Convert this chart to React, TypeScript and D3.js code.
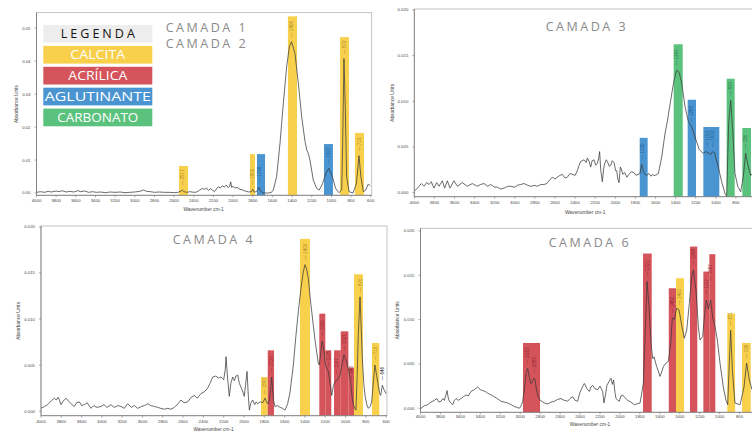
import React from 'react';
import * as d3 from 'd3';

type Pt = [number, number];
type Band = { from: number; to: number; top: number; kind: string };
type Peak = { text: string; wn: number; at: number };

// ---------- DATA ----------
const spectrumCamada1: Pt[] = [
  [4000,0.0002],[3960,0.0004],[3920,0.0002],[3880,0.0005],[3850,0.0003],[3800,0.0006],[3770,0.0004],[3740,0.0007],
  [3700,0.0003],[3660,0.0005],[3620,0.0003],[3580,0.0007],[3550,0.0004],[3510,0.0006],[3470,0.0002],[3430,0.0004],
  [3390,0.0002],[3350,0.0003],[3300,0.0001],[3250,0.0003],[3200,0.0002],[3150,0.0003],[3100,0.0001],[3050,0.0002],
  [3000,0.0003],[2950,0.0005],[2910,0.0009],[2880,0.0005],[2840,0.0004],[2800,0.0002],[2750,0.0003],[2700,0.0002],
  [2650,0.0002],[2600,0.0001],[2560,0.0002],[2530,0.0006],[2517,0.0009],[2500,0.0004],[2470,0.0002],[2440,0.0004],
  [2400,0.0002],[2370,0.0003],[2340,0.0009],[2310,0.0014],[2290,0.0011],[2270,0.0015],[2250,0.0008],[2230,0.0013],
  [2210,0.0009],[2190,0.0004],[2170,0.0012],[2150,0.0019],[2130,0.0015],[2110,0.0022],[2090,0.0018],[2070,0.0024],
  [2050,0.0016],[2035,0.0021],[2024,0.0034],[2015,0.0017],[2000,0.002],[1980,0.0015],[1960,0.0017],[1930,0.0011],
  [1900,0.0009],[1870,0.0005],[1840,0.0003],[1815,0.0004],[1800,0.0011],[1785,0.0003],[1760,0.0004],[1736,0.0017],
  [1720,0.0006],[1700,0.0001],[1670,0.0],[1640,0.0],[1610,0.0002],[1591,0.0009],[1557,0.005],[1523,0.015],
  [1489,0.0272],[1455,0.0383],[1428,0.0443],[1406,0.0459],[1370,0.0423],[1336,0.0332],[1302,0.0231],[1268,0.0156],
  [1250,0.013],[1235,0.012],[1218,0.01],[1184,0.0039],[1150,0.0014],[1123,0.0009],[1089,0.0029],[1055,0.006],
  [1027,0.0075],[990,0.005],[957,0.0014],[923,0.0001],[895,0.0009],[885,0.015],[872,0.0408],[858,0.0252],
  [845,0.005],[820,0.0004],[780,0.0],[745,0.0029],[719,0.0113],[700,0.005],[675,0.0004],[650,0.0009],
  [625,0.0027],[605,0.0022],
];

const spectrumCamada3: Pt[] = [
  [4000,0.0002],[3986,0.0003],[3953,0.0007],[3930,0.001],[3903,0.0007],[3877,0.0011],[3854,0.0009],[3831,0.0012],
  [3804,0.0005],[3777,0.0011],[3754,0.0007],[3721,0.0013],[3698,0.0005],[3671,0.0013],[3645,0.0005],[3605,0.0013],
  [3572,0.0007],[3522,0.0011],[3472,0.0007],[3423,0.001],[3373,0.0007],[3340,0.0009],[3306,0.001],[3270,0.0007],
  [3240,0.0009],[3200,0.0006],[3174,0.0006],[3140,0.0004],[3107,0.0005],[3070,0.0007],[3041,0.0007],[3000,0.0006],
  [2975,0.0008],[2940,0.0009],[2908,0.001],[2870,0.0008],[2842,0.0007],[2800,0.0008],[2776,0.0007],[2740,0.0009],
  [2709,0.0009],[2680,0.001],[2660,0.0013],[2626,0.0017],[2600,0.0015],[2577,0.0017],[2550,0.0019],[2527,0.002],
  [2500,0.0016],[2477,0.0017],[2450,0.0021],[2427,0.002],[2400,0.0019],[2378,0.0024],[2360,0.003],[2345,0.0034],
  [2311,0.0036],[2290,0.0033],[2278,0.0038],[2260,0.0034],[2245,0.0028],[2230,0.0035],[2212,0.0036],[2195,0.003],
  [2179,0.0032],[2165,0.0038],[2156,0.0045],[2145,0.0025],[2129,0.0012],[2115,0.0027],[2106,0.0032],[2090,0.0036],
  [2079,0.0034],[2060,0.0029],[2046,0.003],[2030,0.0035],[2013,0.0033],[1996,0.0024],[1986,0.0024],[1975,0.0015],
  [1963,0.0011],[1950,0.0028],[1940,0.0026],[1925,0.002],[1907,0.0022],[1885,0.0017],[1864,0.002],[1840,0.0023],
  [1814,0.0022],[1795,0.0019],[1774,0.002],[1755,0.0021],[1738,0.0031],[1720,0.0023],[1704,0.002],[1685,0.0019],
  [1665,0.0021],[1645,0.0018],[1631,0.002],[1621,0.0019],[1600,0.0019],[1572,0.0021],[1538,0.0039],[1505,0.0065],
  [1482,0.0078],[1449,0.0101],[1416,0.0123],[1389,0.0134],[1366,0.0132],[1339,0.012],[1306,0.0094],[1273,0.0078],
  [1240,0.0072],[1207,0.0061],[1164,0.0047],[1124,0.0043],[1100,0.0045],[1084,0.0044],[1065,0.0043],[1048,0.0042],
  [1030,0.0045],[1014,0.0044],[975,0.0028],[942,0.0012],[908,-0.0001],[892,-0.0004],[872,0.0076],[852,0.0101],
  [832,0.0069],[809,0.0021],[782,0.0007],[752,0.0001],[726,0.0018],[703,0.0043],[676,0.0028],[653,0.0019],
  [620,0.0022],
];

const spectrumCamada4: Pt[] = [
  [4000,0.0003],[3967,0.0005],[3934,0.0007],[3900,0.0011],[3869,0.0014],[3850,0.0012],[3830,0.0015],[3819,0.0012],
  [3803,0.0007],[3780,0.0011],[3754,0.0014],[3730,0.0011],[3704,0.0008],[3672,0.0005],[3650,0.0009],[3622,0.001],
  [3600,0.0006],[3573,0.0007],[3545,0.0009],[3507,0.0003],[3480,0.0006],[3450,0.0004],[3409,0.0005],[3380,0.0007],
  [3350,0.0004],[3310,0.0007],[3280,0.0004],[3240,0.0006],[3212,0.0005],[3180,0.0003],[3146,0.0008],[3110,0.0004],
  [3080,0.0006],[3048,0.0003],[3010,0.0005],[2980,0.0006],[2949,0.0008],[2920,0.0006],[2883,0.0005],[2850,0.0004],
  [2820,0.0003],[2785,0.0002],[2750,0.0003],[2720,0.0002],[2686,0.0004],[2650,0.0008],[2621,0.0012],[2590,0.0009],
  [2555,0.001],[2520,0.0015],[2489,0.0017],[2460,0.0014],[2424,0.0019],[2390,0.0021],[2358,0.0025],[2335,0.003],
  [2309,0.0037],[2280,0.0038],[2250,0.0036],[2227,0.0037],[2200,0.0034],[2185,0.0045],[2177,0.0059],[2165,0.004],
  [2145,0.0016],[2130,0.003],[2112,0.0037],[2095,0.0033],[2080,0.0038],[2062,0.0039],[2045,0.003],[2030,0.0026],
  [2015,0.0022],[1997,0.0016],[1985,0.0028],[1970,0.0043],[1958,0.0018],[1947,0.0001],[1935,0.0008],[1915,0.0012],
  [1895,0.0007],[1880,0.001],[1865,0.0008],[1840,0.001],[1816,0.0009],[1793,0.0014],[1775,0.0009],[1760,0.0008],
  [1745,0.0015],[1727,0.0037],[1710,0.0012],[1695,0.0005],[1670,0.0006],[1645,0.0004],[1620,0.0003],[1596,0.0001],
  [1570,0.0008],[1547,0.002],[1514,0.005],[1490,0.008],[1465,0.0108],[1440,0.0132],[1416,0.0151],[1399,0.0159],
  [1385,0.0155],[1366,0.0144],[1345,0.012],[1317,0.0093],[1300,0.0077],[1284,0.0064],[1268,0.0052],[1258,0.005],
  [1245,0.0062],[1230,0.0076],[1215,0.0068],[1200,0.0052],[1185,0.0046],[1169,0.0043],[1155,0.0032],[1136,0.0017],
  [1120,0.0027],[1103,0.0032],[1080,0.0034],[1054,0.0039],[1035,0.005],[1015,0.0061],[1000,0.0057],[982,0.005],
  [965,0.0042],[949,0.0032],[935,0.0015],[923,0.0007],[905,0.0002],[897,0.0001],[885,0.004],[874,0.0083],
  [857,0.0124],[845,0.009],[834,0.0057],[820,0.003],[808,0.0017],[790,0.0007],[775,0.0003],[758,0.0005],
  [742,0.001],[725,0.0032],[710,0.005],[695,0.004],[677,0.0028],[665,0.002],[654,0.0017],[637,0.0028],
  [620,0.0023],[600,0.0019],
];

const spectrumCamada6: Pt[] = [
  [4000,0.0001],[3995,0.0],[3960,0.0003],[3928,0.0004],[3895,0.0007],[3861,0.0009],[3835,0.0011],[3815,0.0007],
  [3794,0.0008],[3775,0.0011],[3761,0.0009],[3745,0.0015],[3734,0.002],[3722,0.0012],[3711,0.0008],[3695,0.0006],
  [3677,0.0004],[3660,0.0009],[3644,0.0011],[3620,0.0009],[3594,0.0011],[3570,0.0013],[3544,0.0015],[3520,0.0014],
  [3494,0.0019],[3460,0.0021],[3427,0.0024],[3400,0.0021],[3377,0.002],[3350,0.0019],[3326,0.0017],[3290,0.0015],
  [3260,0.0013],[3230,0.0011],[3193,0.0008],[3160,0.0007],[3126,0.0006],[3090,0.0004],[3059,0.0002],[3030,0.0001],
  [3009,0.0],[2990,0.0003],[2975,0.0008],[2955,0.0025],[2940,0.004],[2925,0.0045],[2910,0.0036],[2895,0.0028],
  [2880,0.0029],[2865,0.0034],[2853,0.0033],[2835,0.002],[2818,0.0013],[2800,0.0009],[2785,0.0008],[2760,0.0006],
  [2725,0.0005],[2690,0.0007],[2658,0.0008],[2625,0.001],[2591,0.0011],[2560,0.0009],[2524,0.0008],[2500,0.0011],
  [2474,0.0013],[2450,0.0009],[2424,0.0008],[2400,0.0018],[2380,0.0023],[2357,0.0028],[2330,0.0022],[2307,0.0019],
  [2290,0.0024],[2273,0.0026],[2250,0.0022],[2223,0.0021],[2200,0.0025],[2173,0.0019],[2160,0.0006],[2145,0.0015],
  [2130,0.0026],[2110,0.003],[2090,0.0034],[2075,0.0027],[2063,0.0032],[2050,0.0018],[2039,0.0011],[2020,0.0009],
  [2006,0.0008],[1990,0.0014],[1972,0.0015],[1950,0.0012],[1922,0.0009],[1890,0.0007],[1855,0.0004],[1830,0.0005],
  [1798,0.0006],[1765,0.0028],[1745,0.0088],[1728,0.0143],[1708,0.0115],[1688,0.0073],[1671,0.0056],[1658,0.0058],
  [1631,0.0047],[1615,0.0042],[1598,0.0036],[1581,0.0041],[1564,0.0047],[1538,0.0051],[1514,0.0053],[1491,0.0073],
  [1474,0.0102],[1454,0.01],[1431,0.0113],[1407,0.0111],[1381,0.0094],[1354,0.0079],[1330,0.0088],[1304,0.0118],
  [1280,0.0148],[1263,0.0156],[1237,0.0133],[1213,0.0092],[1197,0.0077],[1170,0.0081],[1153,0.0103],[1133,0.0122],
  [1113,0.0112],[1090,0.0122],[1070,0.0103],[1046,0.0092],[1023,0.0077],[996,0.0051],[963,0.0024],[936,0.0009],
  [919,0.0004],[903,0.0051],[889,0.0088],[872,0.0043],[846,0.0006],[795,0.0004],[755,0.0024],[729,0.0051],
  [702,0.0032],[675,0.0021],[640,0.0022],
];

const bandsCamada1: Band[] = [
  { from: 2550, to: 2459, top: 0.0082, kind: 'calcita' },
  { from: 1828, to: 1777, top: 0.0118, kind: 'calcita' },
  { from: 1757, to: 1675, top: 0.0118, kind: 'aglutinante' },
  { from: 1442, to: 1350, top: 0.0536, kind: 'calcita' },
  { from: 1075, to: 984, top: 0.01485, kind: 'aglutinante' },
  { from: 912, to: 821, top: 0.0473, kind: 'calcita' },
  { from: 760, to: 668, top: 0.0182, kind: 'calcita' },
];
const bandsCamada3: Band[] = [
  { from: 1757, to: 1678, top: 0.006, kind: 'aglutinante' },
  { from: 1419, to: 1329, top: 0.01624, kind: 'carbonato' },
  { from: 1280, to: 1197, top: 0.01017, kind: 'aglutinante' },
  { from: 1124, to: 1048, top: 0.00719, kind: 'aglutinante' },
  { from: 1048, to: 965, top: 0.00719, kind: 'aglutinante' },
  { from: 892, to: 812, top: 0.01247, kind: 'carbonato' },
  { from: 736, to: 650, top: 0.00708, kind: 'carbonato' },
];
const bandsCamada4: Band[] = [
  { from: 1832, to: 1766, top: 0.0037, kind: 'calcita' },
  { from: 1766, to: 1704, top: 0.0066, kind: 'acrilica' },
  { from: 1448, to: 1350, top: 0.0187, kind: 'calcita' },
  { from: 1258, to: 1199, top: 0.01058, kind: 'acrilica' },
  { from: 1199, to: 1140, top: 0.0066, kind: 'acrilica' },
  { from: 1113, to: 1047, top: 0.0066, kind: 'acrilica' },
  { from: 1047, to: 972, top: 0.00866, kind: 'acrilica' },
  { from: 972, to: 916, top: 0.0047, kind: 'acrilica' },
  { from: 916, to: 828, top: 0.01486, kind: 'calcita' },
  { from: 739, to: 667, top: 0.0074, kind: 'calcita' },
];
const bandsCamada6: Band[] = [
  { from: 2972, to: 2801, top: 0.00737, kind: 'acrilica' },
  { from: 1768, to: 1681, top: 0.01745, kind: 'acrilica' },
  { from: 1510, to: 1437, top: 0.01354, kind: 'acrilica' },
  { from: 1437, to: 1357, top: 0.01467, kind: 'calcita' },
  { from: 1297, to: 1224, top: 0.01824, kind: 'acrilica' },
  { from: 1163, to: 1103, top: 0.01542, kind: 'acrilica' },
  { from: 1103, to: 1043, top: 0.01738, kind: 'acrilica' },
  { from: 923, to: 845, top: 0.01068, kind: 'calcita' },
  { from: 775, to: 688, top: 0.00737, kind: 'calcita' },
];

const peaksCamada1: Peak[] = [
  { text: '2517', wn: 2517, at: 0.0011 }, { text: '1800', wn: 1800, at: 0.0013 },
  { text: '1736', wn: 1736, at: 0.0019 }, { text: '1406', wn: 1406, at: 0.0461 },
  { text: '1027', wn: 1027, at: 0.0077 }, { text: '872', wn: 868, at: 0.041 },
  { text: '719', wn: 719, at: 0.0115 },
];
const peaksCamada3: Peak[] = [
  { text: '1730', wn: 1730, at: 0.0032 }, { text: '1397', wn: 1389, at: 0.0135 },
  { text: '1258', wn: 1240, at: 0.0073 }, { text: '1103', wn: 1084, at: 0.0046 },
  { text: '1032', wn: 1030, at: 0.0046 }, { text: '870', wn: 852, at: 0.0102 },
  { text: '726', wn: 703, at: 0.0044 },
];
const peaksCamada4: Peak[] = [
  { text: '1800', wn: 1797, at: 0.0014 }, { text: '1727', wn: 1727, at: 0.0038 },
  { text: '1409', wn: 1399, at: 0.016 }, { text: '1239', wn: 1230, at: 0.0077 },
  { text: '1175', wn: 1172, at: 0.0044 }, { text: '1107', wn: 1085, at: 0.0036 },
  { text: '1021', wn: 1012, at: 0.0062 }, { text: '946', wn: 945, at: 0.003 },
  { text: '870', wn: 857, at: 0.0125 }, { text: '710', wn: 710, at: 0.0051 },
  { text: '646', wn: 637, at: 0.0029 },
];
const peaksCamada6: Peak[] = [
  { text: '2923', wn: 2925, at: 0.0046 }, { text: '2853', wn: 2862, at: 0.0035 },
  { text: '1721', wn: 1728, at: 0.0144 }, { text: '1452', wn: 1474, at: 0.0103 },
  { text: '1400', wn: 1407, at: 0.0112 }, { text: '1268', wn: 1263, at: 0.0157 },
  { text: '1117', wn: 1133, at: 0.0124 }, { text: '1067', wn: 1090, at: 0.014 },
  { text: '871', wn: 889, at: 0.0089 }, { text: '726', wn: 729, at: 0.0052 },
];

const legendTitle = 'LEGENDA';
const legendLabels = ['CALCITA', 'ACRÍLICA', 'AGLUTINANTE', 'CARBONATO'];
const legendKinds = ['calcita', 'acrilica', 'aglutinante', 'carbonato'];

const xTickValues = d3.range(4000, 599, -200);
const yTicksCoarse = [0, 0.01, 0.02, 0.03, 0.04, 0.05];
const yTicksFine = [0, 0.005, 0.01, 0.015, 0.02];

const titlesCamada1 = ['CAMADA 1', 'CAMADA 2'];
const titlesCamada3 = ['CAMADA 3'];
const titlesCamada4 = ['CAMADA 4'];
const titlesCamada6 = ['CAMADA 6'];

const xAxisTitle = 'Wavenumber cm-1';
const yAxisTitle = 'Absorbance Units';

// ---------- STYLE ----------
const kindFill: Record<string, string> = {
  calcita: '#F8D04C', acrilica: '#D5535B', aglutinante: '#4A95D1', carbonato: '#5BC27E',
};
const kindText: Record<string, string> = {
  calcita: '#A8882C', acrilica: '#8A2630', aglutinante: '#1E5A8E', carbonato: '#2A7646',
};
const FONT = '"Liberation Sans", Arial, sans-serif';
const TITLE_FONT = '"Open Sans", "Noto Sans", sans-serif';
const VIEW_W = 752;

type Layout = {
  key: string; x0: number; x1: number; frameRight: number; yTop: number; yBot: number;
  vMin: number; vMax: number; yLabelX: number; xTitleY: number; tickLabelDy: number;
  titleX: number; titleYs: number[];
};

const layouts: Record<string, Layout> = {
  c1: { key: 'c1', x0: 36.5, x1: 370.7, frameRight: 371.7, yTop: 12.7, yBot: 195.3, vMin: -0.0007, vMax: 0.0547,
        yLabelX: 18, xTitleY: 211, tickLabelDy: 7, titleX: 165.7, titleYs: [31.7, 48.3] },
  c3: { key: 'c3', x0: 414.3, x1: 756, frameRight: 770, yTop: 9, yBot: 196.7, vMin: -0.00044, vMax: 0.0201,
        yLabelX: 394, xTitleY: 214, tickLabelDy: 7, titleX: 545.7, titleYs: [30.7] },
  c4: { key: 'c4', x0: 41, x1: 386.1, frameRight: 387, yTop: 226, yBot: 415.7, vMin: -0.0005, vMax: 0.0201,
        yLabelX: 20, xTitleY: 431, tickLabelDy: 7, titleX: 172.7, titleYs: [243.7] },
  c6: { key: 'c6', x0: 420.5, x1: 759.5, frameRight: 770, yTop: 228.3, yBot: 412.3, vMin: -0.00045, vMax: 0.0203,
        yLabelX: 399, xTitleY: 425.5, tickLabelDy: 6, titleX: 548.7, titleYs: [247.3] },
};

type PanelProps = {
  layout: Layout; data: Pt[]; bands: Band[]; peaks: Peak[]; yTicks: number[]; yDigits: number; titles: string[];
};

function Panel({ layout, data, bands, peaks, yTicks, yDigits, titles }: PanelProps) {
  const L = layout;
  const x = d3.scaleLinear().domain([4000, 600]).range([L.x0, L.x1]);
  const y = d3.scaleLinear().domain([L.vMin, L.vMax]).range([L.yBot, L.yTop]);
  const line = d3.line<Pt>().x(d => x(d[0])).y(d => y(d[1]));
  const clipId = `clip-${L.key}`;
  const fmt = d3.format(`.${yDigits}f`);
  const bandFor = (wn: number) => bands.find(b => wn <= b.from && wn >= b.to);
  const visibleTicks = xTickValues.filter(t => x(t) + 5 <= VIEW_W);
  return (
    <g>
      <defs>
        <clipPath id={clipId}>
          <rect x={L.x0} y={L.yTop} width={L.frameRight - L.x0} height={L.yBot - L.yTop} />
        </clipPath>
      </defs>
      <rect x={L.x0} y={L.yTop} width={L.frameRight - L.x0} height={L.yBot - L.yTop}
            fill="#fff" stroke="#b5b5b5" strokeWidth={0.8} />
      <g clipPath={`url(#${clipId})`}>
        {bands.map((b, i) => (
          <rect key={i} x={x(b.from)} y={y(b.top)} width={x(b.to) - x(b.from)} height={L.yBot - y(b.top)}
                fill={kindFill[b.kind]} />
        ))}
        <path d={line(data) || ''} fill="none" stroke="#3a3a3a" strokeWidth={0.75} strokeLinejoin="round" />
        {peaks.map((p, i) => {
          const b = bandFor(p.wn);
          return (
            <text key={i} transform={`translate(${x(p.wn)},${y(p.at) - 4}) rotate(-90)`} dy="0.35em"
                  fontSize={4.6} fontFamily={FONT} fill={b ? kindText[b.kind] : '#222'}>
              {'— ' + p.text}
            </text>
          );
        })}
      </g>
      <line x1={L.x0} x2={L.x0} y1={L.yTop} y2={L.yBot} stroke="#777" strokeWidth={0.8} />
      <line x1={L.x0} x2={L.frameRight} y1={L.yBot} y2={L.yBot} stroke="#777" strokeWidth={0.8} />
      {xTickValues.map(t => (
        <line key={`t${t}`} x1={x(t)} x2={x(t)} y1={L.yBot} y2={L.yBot + 2} stroke="#777" strokeWidth={0.6} />
      ))}
      {visibleTicks.map(t => (
        <text key={`l${t}`} x={x(t)} y={L.yBot + L.tickLabelDy} textAnchor="middle" fontSize={4.3}
              fontFamily={FONT} fill="#444">
          {t}
        </text>
      ))}
      {yTicks.map(t => (
        <g key={t}>
          <line x1={L.x0 - 2} x2={L.x0} y1={y(t)} y2={y(t)} stroke="#777" strokeWidth={0.6} />
          <text x={L.x0 - 6} y={y(t)} dy="0.35em" textAnchor="end" fontSize={4.3} fontFamily={FONT} fill="#444">
            {fmt(t)}
          </text>
        </g>
      ))}
      <text x={(L.x0 + L.x1) / 2} y={L.xTitleY} textAnchor="middle" fontSize={4.8} fontFamily={FONT} fill="#444">
        {xAxisTitle}
      </text>
      <text transform={`translate(${L.yLabelX},${(L.yTop + L.yBot) / 2}) rotate(-90)`} textAnchor="middle"
            fontSize={4.8} fontFamily={FONT} fill="#444">
        {yAxisTitle}
      </text>
      {titles.map((t, i) => (
        <text key={t} x={L.titleX} y={L.titleYs[i]} fontSize={12.5} fontFamily={TITLE_FONT} fill="#8a8a8a"
              textLength={80} lengthAdjust="spacing">
          {t}
        </text>
      ))}
    </g>
  );
}

function Legend() {
  const lx = 43.3, lw = 109, ly = 25, pitch = 20.9, lh = 17.7;
  const widths = [55, 59, 106, 81];
  return (
    <g>
      <rect x={lx} y={ly} width={lw} height={lh} fill="#EDEDED" />
      <text x={lx + lw / 2} y={ly + lh / 2} dy="0.36em" textAnchor="middle" fontSize={12.5} fontFamily={TITLE_FONT}
            fill="#111" textLength={74} lengthAdjust="spacing">
        {legendTitle}
      </text>
      {legendLabels.map((lab, i) => {
        const yy = ly + pitch * (i + 1);
        return (
          <g key={lab}>
            <rect x={lx} y={yy} width={lw} height={lh} fill={kindFill[legendKinds[i]]} />
            <text x={lx + lw / 2} y={yy + lh / 2} dy="0.36em" textAnchor="middle" fontSize={13}
                  fontFamily={TITLE_FONT} fill="#fff" textLength={widths[i]} lengthAdjust="spacingAndGlyphs">
              {lab}
            </text>
          </g>
        );
      })}
    </g>
  );
}

export default function App() {
  return (
    <div style={{ position: 'absolute', left: 0, top: 0, width: 752, height: 432, background: '#fff' }}>
      <svg width={752} height={432} viewBox="0 0 752 432" style={{ display: 'block' }}>
        <rect width={752} height={432} fill="#fff" />
        <Panel layout={layouts.c1} data={spectrumCamada1} bands={bandsCamada1} peaks={peaksCamada1}
               yTicks={yTicksCoarse} yDigits={2} titles={titlesCamada1} />
        <Panel layout={layouts.c3} data={spectrumCamada3} bands={bandsCamada3} peaks={peaksCamada3}
               yTicks={yTicksFine} yDigits={3} titles={titlesCamada3} />
        <Panel layout={layouts.c4} data={spectrumCamada4} bands={bandsCamada4} peaks={peaksCamada4}
               yTicks={yTicksFine} yDigits={3} titles={titlesCamada4} />
        <Panel layout={layouts.c6} data={spectrumCamada6} bands={bandsCamada6} peaks={peaksCamada6}
               yTicks={yTicksFine} yDigits={3} titles={titlesCamada6} />
        <Legend />
      </svg>
    </div>
  );
}
